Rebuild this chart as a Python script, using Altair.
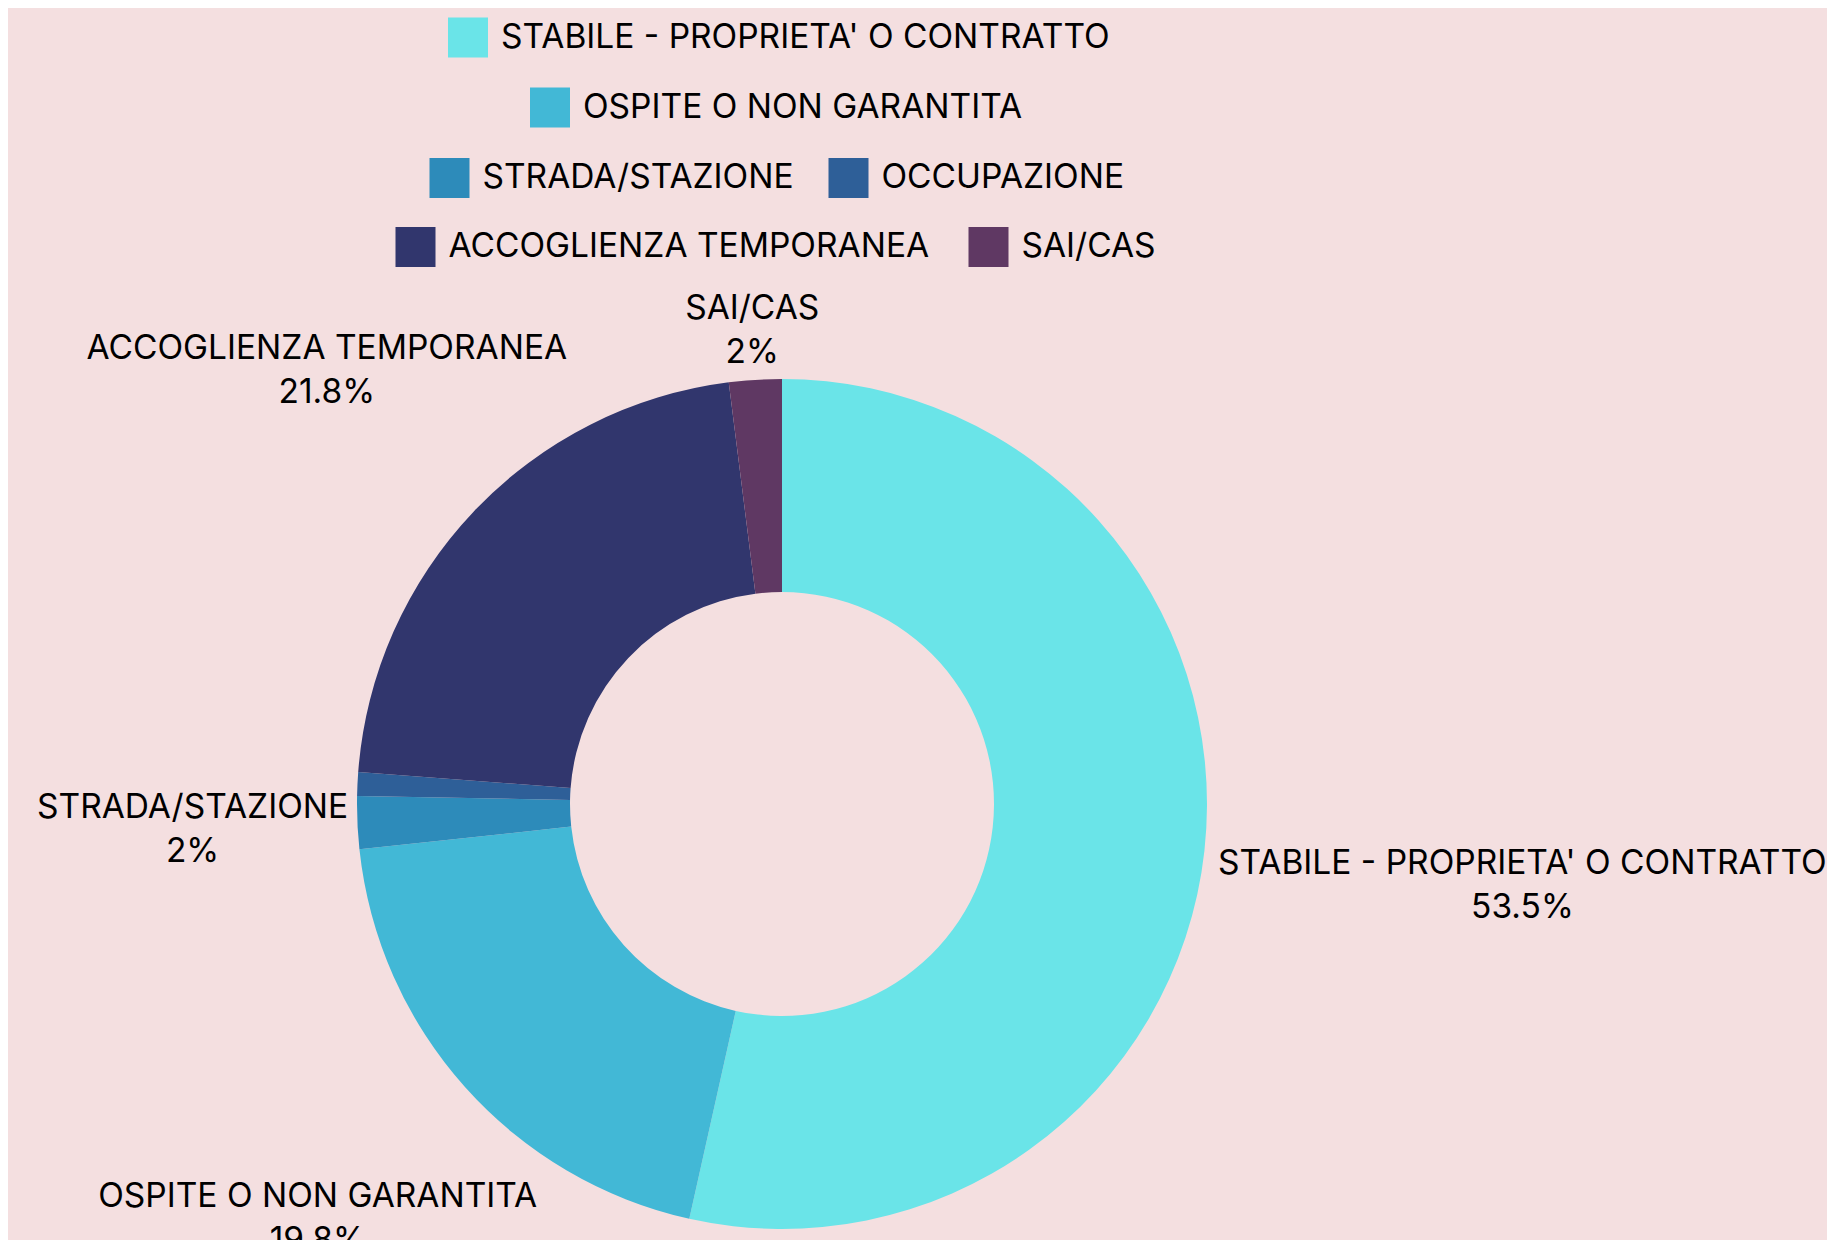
import altair as alt
import pandas as pd
import numpy as np

categories = [
    "STABILE - PROPRIETA' O CONTRATTO",
    "OSPITE O NON GARANTITA",
    "STRADA/STAZIONE",
    "OCCUPAZIONE",
    "ACCOGLIENZA TEMPORANEA",
    "SAI/CAS",
]
values = [53.5, 19.8, 2.0, 0.9, 21.8, 2.0]
colors = ["#6ae4e8", "#42b8d6", "#2d8bba", "#2e5f98", "#31366d", "#5f3863"]
legend_rows = [[0], [1], [2, 3], [4, 5]]

BG = "#f4dfe0"
FONT = "Inter"
FSIZE = 33.5

ends = np.cumsum(values)
starts = ends - np.array(values)
df = pd.DataFrame({"cat": categories, "val": values, "start": starts, "end": ends})
total = float(sum(values))

theta_scale = alt.Scale(domain=[0, total], range=[0, 2 * np.pi])
CX, CY = 774, 796

legend_pos = [(440, 9.5, 34), (522, 79.5, 34), (421.5, 150, 34), (387.5, 219, 39)]

layers = []
for rows, (lx, ly, cpad) in zip(legend_rows, legend_pos):
    cats = [categories[i] for i in rows]
    cols = [colors[i] for i in rows]
    layer = (
        alt.Chart(df)
        .transform_filter(alt.FieldOneOfPredicate(field="cat", oneOf=cats))
        .mark_arc(outerRadius=425, innerRadius=212)
        .encode(
            theta=alt.Theta("start:Q", scale=theta_scale, stack=None),
            theta2="end:Q",
            color=alt.Color(
                "cat:N",
                scale=alt.Scale(domain=cats, range=cols),
                legend=alt.Legend(
                    title=None,
                    orient="none",
                    legendX=lx,
                    legendY=ly,
                    direction="horizontal",
                    columns=len(cats),
                    symbolType="square",
                    symbolSize=1600,
                    symbolStrokeWidth=0,
                    labelOffset=13,
                    columnPadding=cpad,
                    padding=0,
                    labelLimit=2000,
                    labelFont=FONT,
                    labelFontSize=FSIZE,
                    labelColor="#000000",
                ),
            ),
            x=alt.value(CX),
            y=alt.value(CY),
        )
    )
    layers.append(layer)

text = (
    alt.Chart(df)
    .transform_filter("datum.val >= 1")
    .transform_calculate(
        mid="(datum.start + datum.end) / 2",
        ang=f"2 * PI * ((datum.start + datum.end) / 2) / {total}",
        halfw="(0.4 * length(datum.cat) + 0.6 * length(replace(datum.cat, /[ '\\/-]/g, ''))) * 11",
    )
    .transform_calculate(
        lr="430 + abs(sin(datum.ang)) * datum.halfw + abs(cos(datum.ang)) * 40",
        label="datum.cat + '\\n' + datum.val + '%'",
    )
    .mark_text(
        font=FONT,
        fontSize=FSIZE,
        lineBreak="\n",
        lineHeight=44,
        align="center",
        baseline="middle",
        dy=-22,
        color="#000000",
    )
    .encode(
        theta=alt.Theta("mid:Q", scale=theta_scale, stack=None),
        radius=alt.Radius("lr:Q", scale=None),
        text="label:N",
        x=alt.value(CX),
        y=alt.value(CY),
    )
)

chart = (
    alt.layer(*layers, text)
    .resolve_scale(color="independent")
    .resolve_legend(color="independent")
    .properties(
        width=1819,
        height=1232,
        padding=0,
        autosize=alt.AutoSizeParams(type="none"),
    )
    .configure(background=BG)
    .configure_view(stroke=None)
)

chart.save("out.html", embed_options={"renderer": "svg", "actions": False})
